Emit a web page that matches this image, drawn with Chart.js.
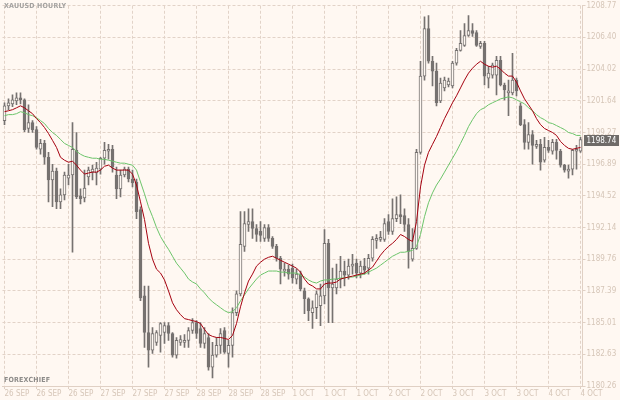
<!DOCTYPE html>
<html>
<head>
<meta charset="utf-8">
<script src="https://cdn.jsdelivr.net/npm/chart.js@4.4.1/dist/chart.umd.min.js"></script>
<style>
  html, body { margin: 0; padding: 0; background: #fff8f2; }
  #wrap { position: relative; width: 620px; height: 400px; background: #fff8f2; }
  .tag { position: absolute; font: bold 7px "DejaVu Sans Condensed", "DejaVu Sans", sans-serif; letter-spacing: 0.2px; }
  #title { left: 4px; top: 2px; color: #a4a2a0; }
  #brand { left: 4px; top: 376px; color: #8d8b89; }
</style>
</head>
<body>
<div id="wrap">
  <canvas id="chart"></canvas>
  <div class="tag" id="title">XAUUSD HOURLY</div>
  <div class="tag" id="brand">FOREXCHIEF</div>
</div>
<script>
// x axis labels, one every 8 hourly bars
const dateLabels = ["26 SEP","26 SEP","26 SEP","27 SEP","27 SEP","27 SEP","28 SEP","28 SEP","28 SEP",
  "1 OCT","1 OCT","1 OCT","2 OCT","2 OCT","3 OCT","3 OCT","3 OCT","4 OCT","4 OCT"];
const yTicks = [1180.26, 1182.63, 1185.01, 1187.39, 1189.76, 1192.14, 1194.52, 1196.89,
  1199.27, 1201.64, 1204.02, 1206.40, 1208.77];

const opens = [
  1200.16, 1201.27, 1201.42, 1201.64, 1201.87, 1201.72, 1199.57, 1200.01, 1199.49, 1198.01,
  1198.45, 1197.41, 1195.71, 1196.37, 1194.07, 1194.59, 1195.85, 1196.08, 1197.93, 1194.52,
  1194.37, 1195.93, 1196.30, 1196.23, 1196.52, 1197.34, 1197.86, 1198.01, 1196.08, 1195.04,
  1196.08, 1196.52, 1195.78, 1195.56, 1193.48, 1187.02, 1184.27, 1182.94, 1183.53, 1184.05,
  1184.27, 1184.79, 1184.20, 1182.57, 1183.53, 1183.53, 1183.68, 1184.42, 1185.01, 1184.57,
  1183.46, 1183.90, 1181.67, 1182.57, 1183.31, 1184.42, 1182.71, 1183.31, 1185.76, 1187.17,
  1190.73, 1192.37, 1192.59, 1192.07, 1191.85, 1191.33, 1192.14, 1191.33, 1190.73, 1189.84,
  1188.88, 1189.02, 1189.10, 1188.28, 1188.65, 1187.39, 1186.80, 1185.76, 1186.13, 1186.28,
  1187.02, 1190.96, 1187.61, 1187.61, 1188.28, 1188.88, 1188.58, 1189.25, 1189.47, 1188.73,
  1189.25, 1189.10, 1189.84, 1191.18, 1191.25, 1191.25, 1192.59, 1191.85, 1192.81, 1193.11,
  1193.03, 1192.37, 1189.77, 1190.58, 1197.78, 1203.50, 1207.06, 1204.61, 1203.87, 1201.64,
  1202.61, 1202.83, 1202.76, 1204.47, 1205.43, 1205.80, 1206.54, 1206.92, 1206.77, 1205.73,
  1205.95, 1203.35, 1203.57, 1203.57, 1204.69, 1202.83, 1202.24, 1202.24, 1203.20, 1201.27,
  1199.86, 1198.53, 1199.12, 1198.23, 1198.38, 1197.19, 1198.15, 1197.86, 1198.53, 1197.86,
  1196.82, 1196.37, 1196.52, 1197.86, 1197.86
];
const highs = [
  1201.50, 1201.79, 1202.09, 1202.24, 1202.24, 1201.79, 1201.35, 1200.16, 1199.71, 1198.75,
  1198.68, 1197.78, 1196.89, 1196.60, 1195.04, 1196.30, 1196.89, 1200.01, 1199.27, 1195.04,
  1196.45, 1196.67, 1196.82, 1197.04, 1197.41, 1198.53, 1198.38, 1198.30, 1196.67, 1196.45,
  1196.67, 1196.67, 1196.45, 1195.78, 1193.70, 1187.76, 1187.76, 1184.64, 1184.42, 1185.01,
  1185.01, 1185.01, 1184.27, 1183.90, 1184.05, 1184.12, 1184.64, 1185.31, 1185.16, 1185.01,
  1184.64, 1184.20, 1183.53, 1183.90, 1184.57, 1184.64, 1183.68, 1186.13, 1187.39, 1193.33,
  1193.33, 1193.55, 1193.55, 1192.37, 1192.59, 1192.37, 1192.37, 1191.47, 1190.88, 1189.99,
  1189.47, 1189.32, 1189.40, 1189.02, 1188.88, 1187.61, 1186.87, 1186.65, 1187.39, 1187.91,
  1191.99, 1191.25, 1189.10, 1189.40, 1189.99, 1189.62, 1189.77, 1190.14, 1189.77, 1189.62,
  1189.84, 1190.14, 1191.47, 1191.62, 1191.85, 1192.81, 1193.11, 1194.30, 1194.44, 1194.59,
  1193.55, 1192.81, 1192.07, 1198.01, 1204.61, 1207.95, 1208.03, 1204.99, 1204.47, 1203.35,
  1203.43, 1203.35, 1204.61, 1205.58, 1206.92, 1207.44, 1208.03, 1207.44, 1206.92, 1206.10,
  1206.10, 1204.24, 1204.47, 1204.99, 1204.99, 1202.98, 1203.20, 1205.21, 1203.35, 1201.50,
  1200.23, 1200.01, 1199.42, 1198.68, 1198.75, 1198.90, 1198.68, 1198.75, 1198.75, 1198.01,
  1196.89, 1196.82, 1198.01, 1198.30, 1198.90
];
const lows = [
  1199.86, 1200.98, 1201.20, 1201.35, 1201.42, 1199.34, 1199.27, 1199.27, 1198.01, 1197.64,
  1196.89, 1194.07, 1193.70, 1193.55, 1193.55, 1194.22, 1195.33, 1190.29, 1194.30, 1193.92,
  1194.07, 1195.33, 1195.71, 1195.33, 1196.15, 1196.89, 1197.26, 1196.30, 1194.30, 1194.44,
  1195.93, 1195.56, 1195.19, 1192.81, 1186.65, 1183.16, 1181.67, 1182.71, 1183.31, 1182.79,
  1183.46, 1183.68, 1182.42, 1182.34, 1183.31, 1183.16, 1183.16, 1184.20, 1183.83, 1183.16,
  1183.09, 1181.45, 1180.86, 1182.42, 1182.71, 1182.71, 1181.67, 1182.42, 1185.53, 1187.02,
  1190.36, 1191.85, 1191.33, 1191.10, 1191.10, 1191.10, 1191.10, 1190.58, 1189.62, 1187.91,
  1188.50, 1188.28, 1187.98, 1187.91, 1187.39, 1185.68, 1185.16, 1184.57, 1185.31, 1184.79,
  1186.42, 1185.01, 1185.01, 1187.17, 1187.61, 1187.76, 1188.28, 1188.65, 1188.36, 1188.36,
  1188.65, 1188.65, 1189.62, 1190.58, 1191.10, 1191.10, 1191.62, 1191.62, 1192.59, 1192.44,
  1191.85, 1189.10, 1189.62, 1190.51, 1197.64, 1203.20, 1204.47, 1202.76, 1201.27, 1201.50,
  1202.39, 1202.68, 1202.61, 1204.32, 1205.36, 1205.73, 1206.47, 1206.47, 1205.73, 1205.58,
  1202.83, 1202.61, 1203.35, 1202.09, 1202.76, 1201.72, 1200.53, 1202.09, 1202.02, 1199.79,
  1198.01, 1198.01, 1196.89, 1198.08, 1196.45, 1197.04, 1197.78, 1197.64, 1197.26, 1196.67,
  1196.30, 1195.85, 1196.08, 1196.52, 1197.78
];
const closes = [
  1201.27, 1201.50, 1201.72, 1201.87, 1201.72, 1199.49, 1200.01, 1199.49, 1198.15, 1198.45,
  1197.41, 1195.71, 1196.37, 1194.07, 1194.59, 1196.08, 1196.08, 1198.01, 1194.44, 1194.30,
  1195.11, 1196.45, 1196.52, 1196.60, 1197.34, 1197.93, 1198.01, 1196.67, 1195.04, 1196.08,
  1196.52, 1195.78, 1195.49, 1193.33, 1186.87, 1184.27, 1182.94, 1184.20, 1184.27, 1184.94,
  1184.79, 1184.20, 1182.57, 1183.68, 1183.75, 1183.68, 1184.42, 1185.01, 1184.20, 1183.46,
  1184.20, 1181.67, 1182.57, 1183.31, 1184.20, 1182.79, 1183.31, 1185.76, 1187.17, 1190.88,
  1192.44, 1192.59, 1192.07, 1191.62, 1191.55, 1192.14, 1191.33, 1190.73, 1189.84, 1189.02,
  1189.02, 1188.65, 1188.36, 1188.65, 1187.54, 1186.80, 1185.91, 1186.13, 1187.17, 1187.02,
  1190.96, 1187.61, 1187.91, 1188.28, 1188.88, 1188.58, 1189.25, 1189.40, 1188.73, 1189.25,
  1188.95, 1189.84, 1191.25, 1191.33, 1191.40, 1192.44, 1191.85, 1192.81, 1193.11, 1192.96,
  1192.37, 1190.36, 1190.58, 1197.78, 1203.50, 1207.06, 1204.61, 1203.87, 1201.50, 1202.98,
  1203.20, 1203.13, 1204.47, 1205.43, 1205.95, 1206.54, 1206.92, 1206.69, 1205.80, 1205.95,
  1203.50, 1203.72, 1204.32, 1204.69, 1202.83, 1202.46, 1202.39, 1203.20, 1202.39, 1199.86,
  1198.53, 1199.12, 1198.30, 1198.38, 1197.04, 1198.15, 1197.93, 1198.53, 1197.93, 1196.82,
  1196.45, 1196.52, 1197.93, 1198.01, 1198.74
];
// moving averages as drawn (red = fast, green = slow)
const maFast = [
  1200.83, 1200.90, 1200.98, 1201.12, 1201.27, 1201.12, 1200.90, 1200.68, 1200.31, 1200.01,
  1199.64, 1199.19, 1198.68, 1198.15, 1197.41, 1197.19, 1197.04, 1197.12, 1196.82, 1196.45,
  1196.15, 1196.23, 1196.30, 1196.30, 1196.45, 1196.74, 1196.82, 1196.60, 1196.45, 1196.45,
  1196.45, 1196.45, 1196.15, 1195.33, 1194.07, 1192.74, 1190.96, 1189.77, 1189.02, 1188.73,
  1188.21, 1187.39, 1186.50, 1185.98, 1185.61, 1185.31, 1185.24, 1185.16, 1185.09, 1184.94,
  1184.50, 1184.12, 1183.98, 1183.90, 1183.90, 1183.83, 1183.75, 1184.05, 1184.94, 1186.20,
  1187.24, 1188.13, 1188.65, 1189.25, 1189.54, 1189.77, 1189.91, 1189.99, 1189.84, 1189.69,
  1189.54, 1189.40, 1189.25, 1189.10, 1188.80, 1188.28, 1187.91, 1187.76, 1187.54, 1187.54,
  1187.91, 1187.98, 1187.98, 1188.06, 1188.28, 1188.36, 1188.43, 1188.50, 1188.58, 1188.65,
  1188.73, 1188.95, 1189.17, 1189.62, 1190.07, 1190.43, 1190.73, 1190.96, 1191.25, 1191.62,
  1191.47, 1191.25, 1191.10, 1192.59, 1195.19, 1196.82, 1197.78, 1198.38, 1198.97, 1199.64,
  1200.31, 1200.90, 1201.50, 1202.02, 1202.61, 1203.20, 1203.72, 1204.09, 1204.39, 1204.61,
  1204.39, 1204.24, 1204.17, 1204.24, 1204.02, 1203.72, 1203.50, 1203.50, 1203.05, 1202.39,
  1201.79, 1201.35, 1200.90, 1200.31, 1199.86, 1199.57, 1199.42, 1199.27, 1199.05, 1198.60,
  1198.30, 1198.08, 1198.01, 1198.08, 1198.15
];
const maSlow = [
  1200.53, 1200.61, 1200.61, 1200.68, 1200.83, 1200.75, 1200.61, 1200.53, 1200.38, 1200.16,
  1199.94, 1199.57, 1199.27, 1199.05, 1198.75, 1198.45, 1198.30, 1198.15, 1197.86, 1197.64,
  1197.49, 1197.41, 1197.34, 1197.34, 1197.26, 1197.26, 1197.19, 1197.12, 1197.04, 1196.97,
  1196.97, 1196.89, 1196.82, 1196.45, 1195.56, 1194.67, 1193.70, 1192.96, 1192.14, 1191.47,
  1190.96, 1190.51, 1189.99, 1189.47, 1189.10, 1188.73, 1188.28, 1188.06, 1187.91, 1187.54,
  1187.24, 1186.87, 1186.57, 1186.35, 1186.13, 1185.91, 1185.76, 1185.83, 1186.13, 1186.65,
  1187.09, 1187.54, 1187.91, 1188.28, 1188.58, 1188.73, 1188.88, 1188.88, 1188.88, 1188.80,
  1188.80, 1188.73, 1188.73, 1188.73, 1188.58, 1188.43, 1188.21, 1188.06, 1187.98, 1188.13,
  1188.21, 1188.21, 1188.28, 1188.28, 1188.36, 1188.36, 1188.43, 1188.43, 1188.50, 1188.58,
  1188.65, 1188.80, 1188.95, 1189.10, 1189.32, 1189.54, 1189.77, 1189.99, 1190.14, 1190.29,
  1190.29, 1190.36, 1190.43, 1190.73, 1191.62, 1192.96, 1194.00, 1194.74, 1195.33, 1195.78,
  1196.30, 1196.82, 1197.34, 1197.86, 1198.45, 1199.05, 1199.71, 1200.23, 1200.68, 1200.98,
  1201.12, 1201.35, 1201.50, 1201.64, 1201.79, 1201.87, 1201.94, 1201.87, 1201.72, 1201.57,
  1201.42, 1201.12, 1200.90, 1200.61, 1200.38, 1200.23, 1200.01, 1199.94, 1199.79, 1199.64,
  1199.49, 1199.27, 1199.19, 1199.05, 1199.05
];

const BG = '#fff8f2';
const CANDLE = '#767270';
const GRID = '#e2d3c8';
const AXIS = '#e0d0c4';
const LABEL = '#d6c6b8';
const FONT = '"DejaVu Sans Condensed", "DejaVu Sans", sans-serif';

// one label slot per bar, text only on every 8th
const labels = opens.map((_, i) => i % 8 === 0 ? dateLabels[i / 8] : '');

const priceTag = {
  id: 'priceTag',
  afterDraw(chart) {
    const {ctx, chartArea, scales: {y}} = chart;
    const last = closes[closes.length - 1];
    const py = Math.round(y.getPixelForValue(last));
    ctx.save();
    ctx.fillStyle = '#6f6b68';
    ctx.fillRect(chartArea.right + 1.5, py - 5, 35, 11);
    ctx.fillStyle = '#ffffff';
    ctx.font = '8px ' + FONT;
    ctx.textBaseline = 'middle';
    ctx.fillText(last.toFixed(2), chartArea.right + 4, py + 1);
    ctx.restore();
  }
};

new Chart(document.getElementById('chart'), {
  type: 'bar',
  data: {
    labels: labels,
    datasets: [
      {
        label: 'MA fast', type: 'line', data: maFast, order: 0,
        borderColor: '#a5000f', borderWidth: 1, pointRadius: 0, tension: 0
      },
      {
        label: 'MA slow', type: 'line', data: maSlow, order: 1,
        borderColor: '#6cc46a', borderWidth: 1, pointRadius: 0, tension: 0
      },
      {
        label: 'body', order: 2, grouped: false,
        data: opens.map((o, i) => [o, closes[i]]),
        backgroundColor: ctx => closes[ctx.dataIndex] >= opens[ctx.dataIndex] ? BG : CANDLE,
        borderColor: CANDLE, borderWidth: 1, borderSkipped: false,
        barThickness: 3, minBarLength: 1
      },
      {
        label: 'wick', order: 3, grouped: false,
        data: lows.map((l, i) => [l, highs[i]]),
        backgroundColor: CANDLE, borderWidth: 0, barThickness: 1
      }
    ]
  },
  options: {
    responsive: true,
    maintainAspectRatio: false,
    animation: false,
    layout: { padding: { left: 2.5, top: 2, right: 0, bottom: 0 } },
    plugins: { legend: { display: false }, tooltip: { enabled: false } },
    scales: {
      x: {
        type: 'category',
        offset: true,
        grid: {
          offset: false,
          color: ctx => ctx.index % 8 === 0 ? GRID : 'transparent',
          tickColor: ctx => ctx.index % 8 === 0 ? AXIS : 'transparent',
          tickLength: 3
        },
        border: { color: AXIS, dash: [3, 2] },
        ticks: {
          autoSkip: false, maxRotation: 0, align: 'start', padding: 0,
          color: LABEL, font: { family: FONT, size: 8 }
        },
        afterFit(s) { s.height = 14; }
      },
      y: {
        position: 'right',
        min: 1180.26,
        max: 1208.77,
        afterBuildTicks(s) { s.ticks = yTicks.map(v => ({ value: v })); },
        grid: { color: GRID, tickColor: AXIS, tickLength: 3 },
        border: { color: AXIS, dash: [3, 2] },
        ticks: {
          padding: 1, color: LABEL, font: { family: FONT, size: 8 },
          callback: v => v.toFixed(2)
        },
        afterFit(s) { s.width = 37.5; }
      }
    }
  },
  plugins: [priceTag]
});
</script>
</body>
</html>
